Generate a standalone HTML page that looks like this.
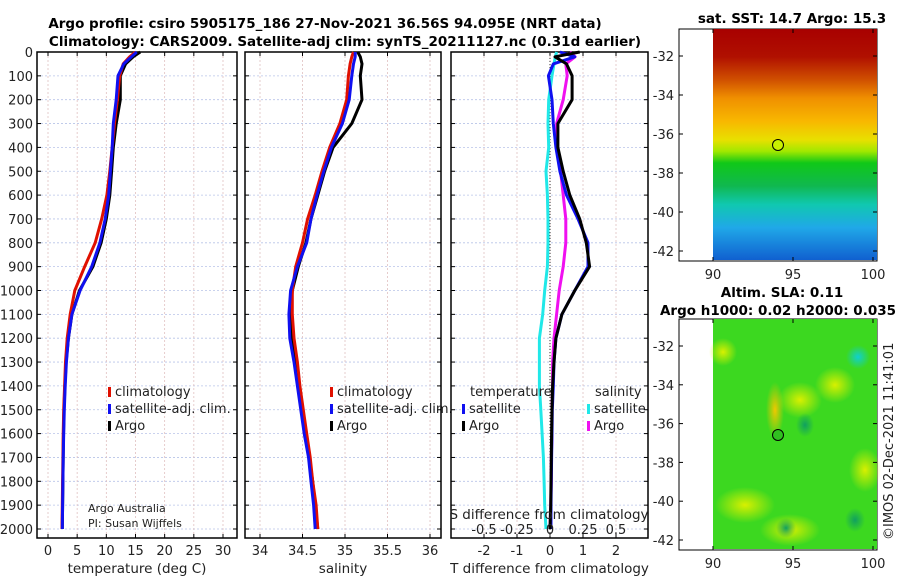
<!DOCTYPE html>
<html><head><meta charset="utf-8"><style>
html,body{margin:0;padding:0;background:#fff;}
svg{display:block;font-family:"DejaVu Sans","Liberation Sans",sans-serif;}
</style></head><body>
<svg id="s" width="900" height="580" xmlns="http://www.w3.org/2000/svg">
<defs>
<linearGradient id="sstg" x1="0" y1="0" x2="0" y2="1">
<stop offset="0" stop-color="#a80000"/><stop offset="0.12" stop-color="#b01000"/>
<stop offset="0.22" stop-color="#d05000"/><stop offset="0.3" stop-color="#f09000"/>
<stop offset="0.4" stop-color="#f8b800"/><stop offset="0.48" stop-color="#e8e000"/>
<stop offset="0.53" stop-color="#a0e800"/><stop offset="0.58" stop-color="#10c818"/>
<stop offset="0.68" stop-color="#10b850"/><stop offset="0.76" stop-color="#10c8b0"/>
<stop offset="0.86" stop-color="#20a8e8"/><stop offset="1" stop-color="#1060d0"/>
</linearGradient>
<radialGradient id="yb"><stop offset="0" stop-color="#d8f000"/><stop offset="1" stop-color="#d8f000" stop-opacity="0"/></radialGradient>
<radialGradient id="db"><stop offset="0" stop-color="#10a060"/><stop offset="1" stop-color="#10a060" stop-opacity="0"/></radialGradient>
<radialGradient id="cb"><stop offset="0" stop-color="#10d0d0"/><stop offset="1" stop-color="#10d0d0" stop-opacity="0"/></radialGradient>
<radialGradient id="ob"><stop offset="0" stop-color="#f0c800"/><stop offset="1" stop-color="#f0c800" stop-opacity="0"/></radialGradient>
</defs>
<g font-weight="bold" font-size="13.5" text-anchor="middle">
<text x="325" y="28">Argo profile: csiro 5905175_186 27-Nov-2021 36.56S 94.095E (NRT data)</text>
<text x="345" y="46">Climatology: CARS2009. Satellite-adj clim: synTS_20211127.nc (0.31d earlier)</text>
<text x="792" y="23">sat. SST: 14.7 Argo: 15.3</text>
<text x="782" y="297">Altim. SLA: 0.11</text>
<text x="778" y="315">Argo h1000: 0.02 h2000: 0.035</text>
</g>
<g id="panels"></g>
<g id="maps">
<rect x="679" y="29" width="198" height="232" fill="#fff" stroke="#000"/>
<rect x="713" y="29" width="164" height="231" fill="url(#sstg)"/>
<circle cx="778" cy="145" r="5.5" fill="#c8f000" stroke="#000"/>
<rect x="679" y="319" width="198" height="231" fill="#fff" stroke="#000"/>
<g>
<rect x="713" y="319" width="164" height="230" fill="#3cd820"/>
<ellipse cx="723" cy="352" rx="14" ry="14" fill="url(#yb)"/>
<ellipse cx="775" cy="410" rx="9" ry="28" fill="url(#ob)"/>
<ellipse cx="800" cy="400" rx="22" ry="18" fill="url(#yb)"/>
<ellipse cx="835" cy="385" rx="20" ry="18" fill="url(#yb)"/>
<ellipse cx="858" cy="357" rx="12" ry="12" fill="url(#cb)"/>
<ellipse cx="805" cy="425" rx="9" ry="12" fill="url(#db)"/>
<ellipse cx="745" cy="505" rx="30" ry="18" fill="url(#yb)"/>
<ellipse cx="865" cy="470" rx="16" ry="22" fill="url(#yb)"/>
<ellipse cx="790" cy="530" rx="30" ry="16" fill="url(#yb)"/>
<ellipse cx="786" cy="528" rx="10" ry="10" fill="url(#db)"/>
<ellipse cx="855" cy="520" rx="10" ry="12" fill="url(#db)"/>
</g>
<circle cx="778" cy="435" r="5.5" fill="#30c020" stroke="#000"/>
<text transform="translate(893,540) rotate(-90)" font-size="13" fill="#222">©IMOS 02-Dec-2021 11:41:01</text>
</g>
</svg>
<script>
const NS="http://www.w3.org/2000/svg";
const depths=[0,20,50,100,200,300,400,500,600,700,800,900,1000,1100,1200,1300,1400,1500,1600,1700,1800,1900,2000];
const tempClim=[15.0,14.0,12.9,12.3,11.9,11.4,11.0,10.6,10.1,9.2,8.1,6.3,4.6,3.8,3.3,3.0,2.85,2.7,2.6,2.55,2.5,2.45,2.4];
const tempSat=[15.2,14.3,13.0,12.0,11.7,11.2,11.0,10.7,10.4,9.8,8.9,7.5,5.5,4.1,3.5,3.15,2.95,2.8,2.7,2.6,2.55,2.5,2.45];
const tempArgo=[15.8,14.6,13.3,12.4,12.4,11.7,11.2,10.9,10.6,10.0,9.1,7.7,5.4,4.1,3.5,3.1,2.9,2.75,2.65,2.6,2.55,2.5,2.45];
const salClim=[35.1,35.08,35.06,35.04,35.02,34.94,34.82,34.73,34.65,34.56,34.5,34.42,34.38,34.38,34.4,34.44,34.47,34.51,34.55,34.59,34.62,34.66,34.68];
const salSat=[35.12,35.12,35.1,35.08,35.05,34.97,34.84,34.75,34.67,34.6,34.55,34.44,34.36,34.34,34.35,34.4,34.44,34.48,34.52,34.57,34.6,34.63,34.65];
const salArgo=[35.15,35.18,35.2,35.18,35.2,35.08,34.86,34.76,34.68,34.6,34.54,34.45,34.38,34.36,34.38,34.42,34.46,34.5,34.54,34.58,34.62,34.65,34.68];
const dT_sat=[0.3,0.75,0.1,-0.05,0.06,0.1,0.18,0.3,0.5,0.85,1.15,1.15,0.75,0.36,0.18,0.12,0.1,0.07,0.06,0.05,0.04,0.03,0.03];
const dT_argo=[0.9,0.15,0.5,0.67,0.67,0.24,0.24,0.4,0.6,0.9,1.1,1.2,0.75,0.36,0.18,0.12,0.08,0.06,0.05,0.04,0.03,0.02,0.0];
const dS_argo=[0.15,0.19,0.12,0.13,0.1,0.05,0.05,0.08,0.1,0.12,0.12,0.1,0.07,0.05,0.03,0.02,0.02,0.015,0.015,0.01,0.01,0.005,0.0];
const dS_sat=[0.05,0.04,0.03,0.015,-0.01,-0.015,-0.01,-0.03,-0.02,-0.015,-0.015,-0.02,-0.04,-0.055,-0.08,-0.08,-0.08,-0.07,-0.06,-0.05,-0.045,-0.04,-0.03];
const depthTicks=[0,100,200,300,400,500,600,700,800,900,1000,1100,1200,1300,1400,1500,1600,1700,1800,1900,2000];
const tTicks=[0,5,10,15,20,25,30];
const sTicks=[34,34.5,35,35.5,36];
const dTTicks=[-2,-1,0,1,2];
const dSTicks=[-0.5,-0.25,0,0.25,0.5];
const dSLabels=["-0.5","-0.25","0","0.25","0.5"];
const latTicks=[-32,-34,-36,-38,-40,-42];
const lonTicks=[90,95,100];

const root=document.getElementById('panels');
const top0=52, bottom=538;
const yD=d=>top0+d*0.2385;
function el(tag,a,p){const e=document.createElementNS(NS,tag);for(const k in a)e.setAttribute(k,a[k]);(p||root).appendChild(e);return e;}
function txt(x,y,s,a,p){const t=el('text',Object.assign({x:x,y:y,'font-size':13,fill:'#222'},a||{}),p);t.textContent=s;return t;}

function panel(name,x0,x1,xf,ticks,labels,xlabel){
  const g=el('g',{});
  
  
  depthTicks.forEach(d=>{const l=el('line',{x1:x0,x2:x1,y1:yD(d),y2:yD(d),stroke:'#b8c4e8','stroke-width':0.8,'stroke-dasharray':'2,2'},g);
    });
  ticks.forEach((v,i)=>{const X=xf(v);
    const l=el('line',{x1:X,x2:X,y1:top0,y2:bottom,stroke:'#e0c0c0','stroke-width':0.8,'stroke-dasharray':'2,2'},g);
    
    el('line',{x1:X,x2:X,y1:bottom,y2:bottom-4,stroke:'#000'},g);el('line',{x1:X,x2:X,y1:top0,y2:top0+4,stroke:'#000'},g);
    const t=txt(X,555,labels[i],{'text-anchor':'middle'},g);
    });
  depthTicks.forEach(d=>{el('line',{x1:x0,x2:x0+4,y1:yD(d),y2:yD(d),stroke:'#000'},g);el('line',{x1:x1,x2:x1-4,y1:yD(d),y2:yD(d),stroke:'#000'},g);});
  const f=el('rect',{x:x0,y:top0,width:x1-x0,height:bottom-top0,fill:'none',stroke:'#000','stroke-width':1.5},g);
  
  const xl=txt((x0+x1)/2,573,xlabel,{'text-anchor':'middle','font-size':13.5},g);
  
  return g;
}
function line(g,vals,xf,color,w,name){
  const pts=vals.map((v,i)=>xf(v).toFixed(1)+','+yD(depths[i]).toFixed(1)).join(' ');
  const p=el('polyline',{points:pts,fill:'none',stroke:color,'stroke-width':w,'stroke-linejoin':'round'},g);
  
  
}
function legend(g,x,y,color,label){
  const r=el('rect',{x:x,y:y-9,width:3,height:10,fill:color},g);
  
  const t=txt(x+7,y,label,{},g);
  
}
depthTicks.forEach(d=>{const t=txt(33,yD(d)+5,String(d),{'text-anchor':'end'});
  });

const xT=v=>48+v*5.833;
const g1=panel('temperature',37,237,xT,tTicks,tTicks.map(String),'temperature (deg C)');
line(g1,tempArgo,xT,'#000',3,'temperature-argo-line');
line(g1,tempClim,xT,'#e01000',3,'temperature-climatology-line');
line(g1,tempSat,xT,'#1010f0',3,'temperature-satellite-line');
legend(g1,108,396,'#e01000','climatology');legend(g1,108,413,'#1010f0','satellite-adj. clim.');legend(g1,108,430,'#000','Argo');
const c1=txt(88,512,'Argo Australia',{'font-size':11});
const c2=txt(88,527,'PI: Susan Wijffels',{'font-size':11});

const xS=v=>260+(v-34)*85;
const g2=panel('salinity',245,441,xS,sTicks,["34","34.5","35","35.5","36"],'salinity');
line(g2,salArgo,xS,'#000',3,'salinity-argo-line');
line(g2,salClim,xS,'#e01000',3,'salinity-climatology-line');
line(g2,salSat,xS,'#1010f0',3,'salinity-satellite-line');
legend(g2,330,396,'#e01000','climatology');legend(g2,330,413,'#1010f0','satellite-adj. clim.');legend(g2,330,430,'#000','Argo');

const xDT=v=>550+v*33;
const xDS=v=>550+v*132;
const g3=panel('difference',451,648,xDT,dTTicks,dTTicks.map(String),'T difference from climatology');
el('line',{x1:550,x2:550,y1:top0,y2:bottom,stroke:'#333','stroke-width':1,'stroke-dasharray':'1,2'},g3);
line(g3,dS_sat,xDS,'#20e8e8',3,'salinity-satellite-diff-line');
line(g3,dS_argo,xDS,'#f010f0',3,'salinity-argo-diff-line');
line(g3,dT_sat,xDT,'#1010f0',3,'temperature-satellite-diff-line');
line(g3,dT_argo,xDT,'#000',3,'temperature-argo-diff-line');
const lt=txt(470,396,'temperature',{});
const ls=txt(595,396,'salinity',{});
legend(g3,462,413,'#1010f0','satellite');legend(g3,462,430,'#000','Argo');
legend(g3,587,413,'#20e8e8','satellite');legend(g3,587,430,'#f010f0','Argo');
const st=txt(549,519,'S difference from climatology',{'text-anchor':'middle','font-size':13.5});

dSTicks.forEach((v,i)=>{const t=txt(xDS(v),534,dSLabels[i],{'text-anchor':'middle'},g3);
  });

const maps=document.getElementById('maps');
function mapAxes(y32,y42,yBottom,yTop,name){
  const yL=l=>y32+(l+32)/(-10)*(y42-y32);
  latTicks.forEach(l=>{const Y=yL(l);
    el('line',{x1:679,x2:683,y1:Y,y2:Y,stroke:'#000'},maps);el('line',{x1:877,x2:873,y1:Y,y2:Y,stroke:'#000'},maps);
    const t=txt(674,Y+5,String(l),{'text-anchor':'end'},maps);
    });
  lonTicks.forEach(o=>{const X=713+(o-90)*16;
    el('line',{x1:X,x2:X,y1:yBottom,y2:yBottom-4,stroke:'#000'},maps);el('line',{x1:X,x2:X,y1:yTop,y2:yTop+4,stroke:'#000'},maps);
    const t=txt(X,yBottom+18,String(o),{'text-anchor':'middle'},maps);
    });
}
mapAxes(56,251,261,29,'sst-map');
mapAxes(346,540,550,319,'sla-map');
</script>
</body></html>
